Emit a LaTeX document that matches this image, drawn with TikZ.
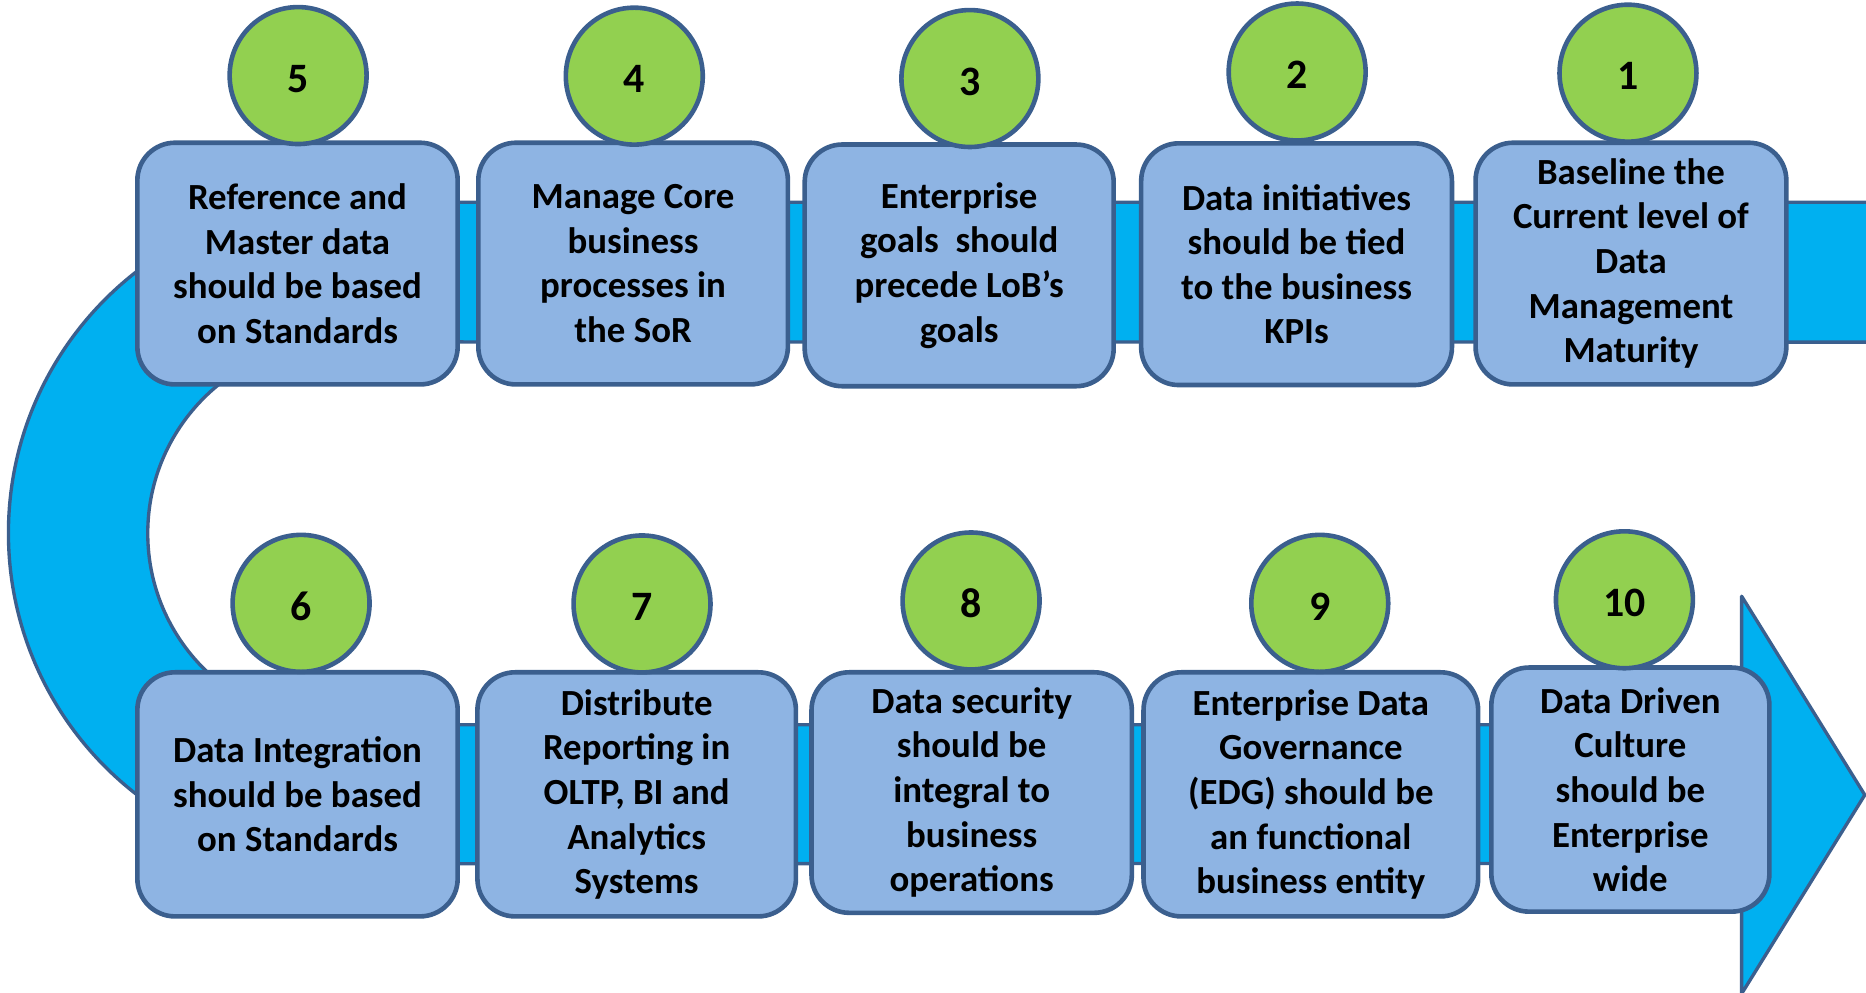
\documentclass[tikz,border=0pt]{standalone}
\usepackage{fontspec}
\setmainfont{Carlito}
\definecolor{bandblue}{HTML}{00B0F0}
\definecolor{boxblue}{HTML}{8EB4E3}
\definecolor{edgeblue}{HTML}{3B5F8E}
\definecolor{stepgreen}{HTML}{92D050}
\tikzset{
	band/.style={fill=bandblue, draw=edgeblue, line width=0.8pt, line join=round},
	stage/.style={draw=edgeblue, fill=boxblue, line width=1.1pt, rounded corners=9pt, align=center, inner sep=0pt, minimum height=2.03cm, font=\fontsize{8.8}{10.67}\selectfont\bfseries},
	num/.style={circle, draw=edgeblue, fill=stepgreen, line width=1.1pt, minimum size=1.15cm, inner sep=0pt, text height=8pt, text depth=0pt, font=\fontsize{10}{12}\selectfont\bfseries}
}
\begin{document}
\begin{tikzpicture}[x=0.01cm, y=-0.01cm]
	\useasboundingbox (0,0) rectangle (1568,834);
	\clip (0,0) rectangle (1568,834);
	% the U-turn arrow behind the steps
	\draw[band] (1600,170) -- (285,170) arc[start angle=90, end angle=270, radius=2.7775cm]
		-- (1463.5,725.5) -- (1463.5,835) -- (1567,668) -- (1463.5,501) -- (1463.5,609)
		-- (285,609) arc[start angle=270, end angle=90, radius=1.6075cm] -- (1600,287.5) -- cycle;
	% top row
	\node[stage, minimum width=2.69cm] (s5) at (250,221.5) {Reference and\\Master data\\should be based\\on Standards};
	\node[stage, minimum width=2.60cm] (s4) at (532,221.5) {Manage Core\\business\\processes in\\the SoR};
	\node[stage, minimum width=2.595cm] (s3) at (806,223) {Enterprise\\goals~ should\\precede LoB’s\\goals};
	\node[stage, minimum width=2.61cm] (s2) at (1089.5,222) {Data initiatives\\should be tied\\to the business\\KPIs};
	\node[stage, minimum width=2.61cm] (s1) at (1370.5,221.5) {Baseline the\\Current level of\\Data\\Management\\Maturity};
	% bottom row
	\node[stage, minimum width=2.69cm, minimum height=2.05cm] (s6) at (250,667.5) {Data Integration\\should be based\\on Standards};
	\node[stage, minimum width=2.675cm, minimum height=2.05cm] (s7) at (535,667.5) {Distribute\\Reporting in\\OLTP, BI and\\Analytics\\Systems};
	\node[stage, minimum width=2.69cm, minimum height=2.02cm] (s8) at (816.5,666) {Data security\\should be\\integral to\\business\\operations};
	\node[stage, minimum width=2.81cm, minimum height=2.05cm] (s9) at (1101.5,667.5) {Enterprise Data\\Governance\\(EDG) should be\\an functional\\business entity};
	\node[stage, minimum width=2.335cm, minimum height=2.05cm] (s10) at (1370,663.5) {Data Driven\\Culture\\should be\\Enterprise\\wide};
	% step numbers
	\foreach \n/\x/\y in {5/250.5/63.5, 4/533/64, 3/815/66, 2/1090/60.5, 1/1368/61.5,
		6/253/507, 7/539.5/507.5, 8/816/505, 9/1109/507, 10/1365/504}
		\node[num] (n\n) at (\x,\y) {\n};
\end{tikzpicture}
\end{document}
